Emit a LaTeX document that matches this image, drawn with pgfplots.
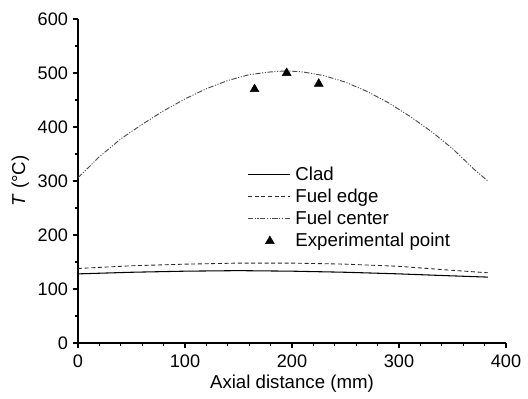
\documentclass[border=0pt]{standalone}
\usepackage{pgfplots}
\pgfplotsset{compat=1.18}
\usepackage{fontspec}
\setmainfont{Liberation Sans}
\pgfplotsset{
  linelegend/.style={legend image code/.code={\draw[##1] (0cm,0cm) -- (1.1cm,0cm);}},
  marklegend/.style={legend image code/.code={\draw[##1] plot coordinates {(0.58cm,0cm)};}},
}
\begin{document}
\begin{tikzpicture}
\begin{axis}[
  scale only axis,
  width=321pt, height=243pt,
  xmin=0, xmax=400, ymin=0, ymax=600,
  xtick={0,100,200,300,400},
  ytick={0,100,200,300,400,500,600},
  minor x tick num=4,
  minor y tick num=1,
  axis x line*=bottom, axis y line*=left,
  tick align=outside,
  major tick length=4pt, minor tick length=2.5pt,
  every tick/.style={black, line width=0.8pt},
  axis line style={line width=0.9pt},
  /pgf/number format/assume math mode=true,
  tick label style={font=\fontsize{13.6}{15}\selectfont},
  xticklabel style={yshift=-1.5pt},
  label style={font=\fontsize{14}{16}\selectfont},
  xlabel={Axial distance (mm)},
  ylabel={\textit{T} (\textdegree C)},
  xlabel style={at={(axis description cs:0.5,-0.127)}, anchor=center},
  ylabel style={at={(axis description cs:-0.135,0.5)}, anchor=center},
  legend style={at={(axis description cs:0.395,0.553)}, anchor=north west, draw=none, fill=none,
    font=\fontsize{14}{16}\selectfont, row sep=1pt, inner sep=0pt,
    /tikz/every odd column/.append style={column sep=2pt}},
  legend cell align=left,
]
\addplot[black, line width=0.8pt, linelegend] coordinates {
(0,128) (50,131) (100,133) (150,134) (200,133) (250,131) (300,128) (340,125) (383,122)};
\addlegendentry{Clad}
\addplot[black!85, line width=0.65pt, dash pattern=on 3pt off 2pt, linelegend] coordinates {
(0,138) (50,143) (100,146) (150,148) (200,148) (250,146) (300,142) (340,136) (383,130)};
\addlegendentry{Fuel edge}
\addplot[black!70, line width=0.7pt, dash pattern=on 4pt off 1.2pt on 0.8pt off 1.2pt on 0.8pt off 1.2pt, linelegend] coordinates {
(0,306) (20,345) (40,378) (60,405) (80,430) (100,452) (120,471) (140,486) (160,497) (180,502) (195,504) (210,502) (230,495) (250,483) (270,466) (290,445) (310,420) (330,392) (350,360) (370,322) (383,300)};
\addlegendentry{Fuel center}
\addplot[only marks, mark=triangle*, mark size=3.8pt, black, marklegend] coordinates {
(165,470) (195,500) (225,480)};
\addlegendentry{Experimental point}
\end{axis}
\pgfresetboundingbox
\path (-58.5pt,-42pt) rectangle (337.5pt,257.25pt);
\end{tikzpicture}
\end{document}
